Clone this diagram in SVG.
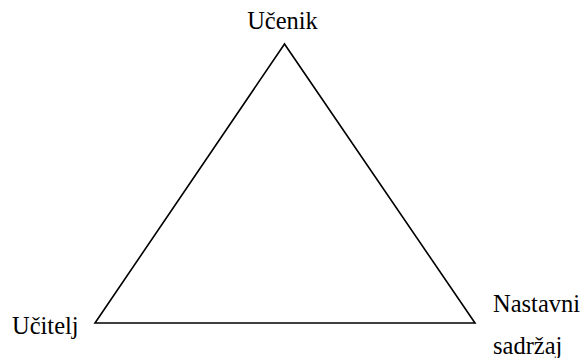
<svg xmlns="http://www.w3.org/2000/svg" width="585" height="358" viewBox="0 0 585 358">
<style>
text{font-family:"Liberation Serif","Times New Roman",serif;font-size:24.5px;fill:#000}
.edge{fill:none;stroke:#000;stroke-width:1.6;stroke-linejoin:miter}
</style>
<rect width="585" height="358" fill="#fff"/>
<g id="connectors">
<polygon class="edge" points="284.5,44 95,323 475,323"/>
</g>
<g id="ucenik"><text x="282.5" y="28.5" text-anchor="middle">Učenik</text></g>
<g id="ucitelj"><text x="12" y="333.5">Učitelj</text></g>
<g id="sadrzaj"><text x="493" y="311.5">Nastavni</text><text x="493" y="354">sadržaj</text></g>
</svg>
